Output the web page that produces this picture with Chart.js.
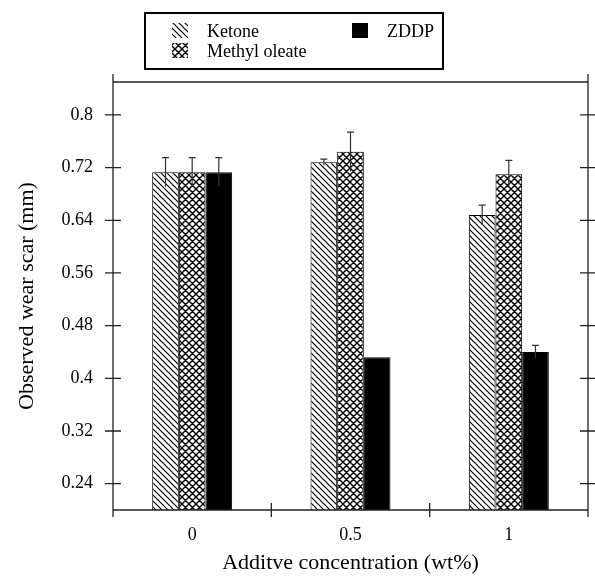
<!DOCTYPE html>
<html>
<head>
<meta charset="utf-8">
<script src="https://cdn.jsdelivr.net/npm/chart.js@4/dist/chart.umd.min.js"></script>
<style>
  body { margin: 0; background: #fff; }
  canvas { display: block; }
</style>
</head>
<body>
<canvas id="chart" width="595" height="579"></canvas>
<script>
// data
const categories = ["0", "0.5", "1"];
const ketone = [0.713, 0.728, 0.648];
const ketoneErr = [0.022, 0.005, 0.015];
const methylOleate = [0.713, 0.744, 0.710];
const methylOleateErr = [0.022, 0.030, 0.021];
const zddp = [0.713, 0.432, 0.440];
const zddpErr = [0.022, 0, 0.010];
const yTicks = [0.24, 0.32, 0.4, 0.48, 0.56, 0.64, 0.72, 0.8];

const serif = '"Liberation Serif", "Times New Roman", serif';
const errors = [ketoneErr, methylOleateErr, zddpErr];

const ctx = document.getElementById("chart").getContext("2d");

function pattern(size, cross, lw) {
    /**Make a repeating hatch fill */
    const c = document.createElement("canvas");
    c.width = size; c.height = size;
    const g = c.getContext("2d");
    g.fillStyle = "#fff";
    g.fillRect(0, 0, size, size);
    g.strokeStyle = "#000";
    g.lineWidth = lw;
    g.beginPath();
    g.moveTo(-1, -1); g.lineTo(size + 1, size + 1);
    g.moveTo(-1, size - 1); g.lineTo(1, size + 1);
    g.moveTo(size - 1, -1); g.lineTo(size + 1, 1);
    if (cross) {
        g.moveTo(-1, size + 1); g.lineTo(size + 1, -1);
        g.moveTo(-1, 1); g.lineTo(1, -1);
        g.moveTo(size - 1, size + 1); g.lineTo(size + 1, size - 1);
    }
    g.stroke();
    return ctx.createPattern(c, "repeat");
}

const errorBars = {
    id: "errorBars",
    afterDatasetsDraw(chart) {
        const c = chart.ctx;
        const y = chart.scales.y;
        c.save();
        c.strokeStyle = "#333";
        c.lineWidth = 1.2;
        chart.data.datasets.forEach((ds, i) => {
            const meta = chart.getDatasetMeta(i);
            meta.data.forEach((bar, j) => {
                const e = errors[i][j];
                if (!e) return;
                const top = y.getPixelForValue(ds.data[j] + e);
                const bot = y.getPixelForValue(ds.data[j] - e);
                c.beginPath();
                c.moveTo(bar.x, top); c.lineTo(bar.x, bot);
                c.moveTo(bar.x - 3.5, top); c.lineTo(bar.x + 3.5, top);
                c.stroke();
            });
        });
        c.restore();
    }
};

const frame = {
    id: "frame",
    afterDraw(chart) {
        const c = chart.ctx;
        const a = chart.chartArea;
        const x = chart.scales.x, y = chart.scales.y;
        c.save();
        c.strokeStyle = "#222";
        c.lineWidth = 1.3;
        c.beginPath();
        // box round the plot, side lines run a bit past the ends
        c.moveTo(a.left, a.top - 8); c.lineTo(a.left, a.bottom + 7);
        c.moveTo(a.right, a.top - 8); c.lineTo(a.right, a.bottom + 7);
        c.moveTo(a.left, a.top); c.lineTo(a.right, a.top);
        c.moveTo(a.left, a.bottom); c.lineTo(a.right, a.bottom);
        yTicks.forEach(v => {
            const py = y.getPixelForValue(v);
            c.moveTo(a.left - 8, py); c.lineTo(a.left + 8, py);
            c.moveTo(a.right - 8, py); c.lineTo(a.right + 7, py);
        });
        for (let i = 0; i < categories.length - 1; i++) {
            const px = (x.getPixelForTick(i) + x.getPixelForTick(i + 1)) / 2;
            c.moveTo(px, a.bottom - 7); c.lineTo(px, a.bottom + 7);
        }
        c.stroke();

        // legend box
        c.lineWidth = 2;
        c.strokeStyle = "#000";
        c.strokeRect(145, 13, 298, 56);
        const spots = [[172, 23], [172, 43], [352, 23]];
        c.font = "18px " + serif;
        c.textBaseline = "middle";
        chart.data.datasets.forEach((d, i) => {
            const [sx, sy] = spots[i];
            c.fillStyle = d.backgroundColor;
            c.fillRect(sx, sy, 16, 15);
            c.fillStyle = "#000";
            c.fillText(d.label, sx + 35, sy + 9);
        });
        c.restore();
    }
};

const chart = new Chart(ctx, {
    type: "bar",
    data: {
        labels: categories,
        datasets: [
            { label: "Ketone", data: ketone, backgroundColor: pattern(6, false, 1.2) },
            { label: "Methyl oleate", data: methylOleate, backgroundColor: pattern(7, true, 1.4) },
            { label: "ZDDP", data: zddp, backgroundColor: "#000" }
        ]
    },
    options: {
        responsive: false,
        animation: false,
        layout: { padding: { top: 82, right: 7, left: 0, bottom: 0 } },
        datasets: {
            bar: {
                borderColor: "#000",
                borderWidth: 1,
                categoryPercentage: 0.505,
                barPercentage: 1
            }
        },
        scales: {
            x: {
                grid: { display: false },
                border: { display: false },
                ticks: { color: "#000", padding: 6, font: { family: serif, size: 18 } },
                title: {
                    display: true,
                    text: "Additve concentration (wt%)",
                    color: "#000",
                    padding: { top: 0, bottom: 3 },
                    font: { family: serif, size: 22 }
                },
                afterFit(scale) { scale.height = 69; }
            },
            y: {
                min: 0.2,
                max: 0.85,
                grid: { display: false },
                border: { display: false },
                afterBuildTicks(scale) {
                    scale.ticks = yTicks.map(v => ({ value: v }));
                },
                ticks: {
                    color: "#000",
                    padding: 12,
                    font: { family: serif, size: 18 },
                    callback: v => String(Number(v.toFixed(2)))
                },
                title: {
                    display: true,
                    text: "Observed wear scar (mm)",
                    color: "#000",
                    padding: { top: 14, bottom: 0 },
                    font: { family: serif, size: 22 }
                },
                afterFit(scale) { scale.width = 113; }
            }
        },
        plugins: {
            legend: { display: false },
            tooltip: { enabled: false }
        }
    },
    plugins: [errorBars, frame]
});
</script>
</body>
</html>
